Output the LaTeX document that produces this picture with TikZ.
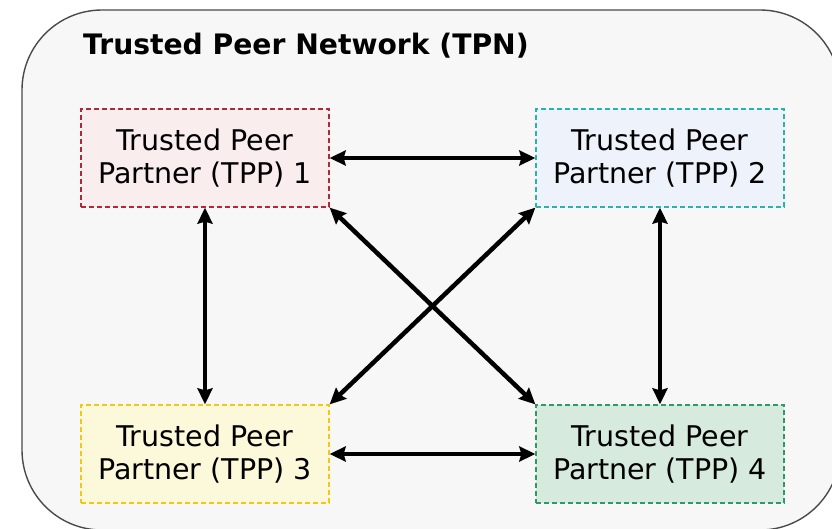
\documentclass[tikz,border=0pt]{standalone}
\usepackage{fontspec}
\setmainfont{DejaVu Sans}
\usetikzlibrary{arrows.meta}
\definecolor{netfill}{HTML}{F7F7F7}
\definecolor{netline}{HTML}{4A4A4A}
\definecolor{redline}{HTML}{B02A35}
\definecolor{redfill}{HTML}{F9EDED}
\definecolor{tealline}{HTML}{2AB3AA}
\definecolor{tealfill}{HTML}{EEF2FA}
\definecolor{goldline}{HTML}{F2C811}
\definecolor{goldfill}{HTML}{FCF8DA}
\definecolor{greenline}{HTML}{2E9A68}
\definecolor{greenfill}{HTML}{D6EADD}
\tikzset{
  peer/.style={draw, line width=1.3pt, dash pattern=on 5pt off 3pt,
    minimum width=248pt, minimum height=98pt, inner sep=0pt,
    align=center, font=\fontsize{28.5}{33}\selectfont},
  link/.style={line width=4.5pt, {Stealth[length=16pt,width=15pt,inset=2pt]}-{Stealth[length=16pt,width=15pt,inset=2pt]}}
}
\begin{document}
\begin{tikzpicture}[x=1pt,y=-1pt]
  \useasboundingbox (0,0) rectangle (832,529);
  \clip (0,0) rectangle (832,529);
  % network frame
  \draw[netline, fill=netfill, line width=1.4pt, rounded corners=80pt] (22,10) rectangle (840,530);
  \node[anchor=base west, font=\fontsize{28.2}{33}\selectfont\bfseries, inner sep=0pt] (title) at (83,55) {Trusted Peer Network (TPN)};
  % peer partners
  \node[peer, draw=redline, fill=redfill] (p1) at (205,158) {Trusted Peer\\Partner (TPP) 1};
  \node[peer, draw=tealline, fill=tealfill] (p2) at (660,158) {Trusted Peer\\Partner (TPP) 2};
  \node[peer, draw=goldline, fill=goldfill] (p3) at (205,454) {Trusted Peer\\Partner (TPP) 3};
  \node[peer, draw=greenline, fill=greenfill] (p4) at (660,454) {Trusted Peer\\Partner (TPP) 4};
  % peer links
  \draw[link] (p1.east) -- (p2.west);
  \draw[link] (p3.east) -- (p4.west);
  \draw[link] (p1.south) -- (p3.north);
  \draw[link] (p2.south) -- (p4.north);
  \draw[link] (p1.south east) -- (p4.north west);
  \draw[link] (p2.south west) -- (p3.north east);
\end{tikzpicture}
\end{document}
